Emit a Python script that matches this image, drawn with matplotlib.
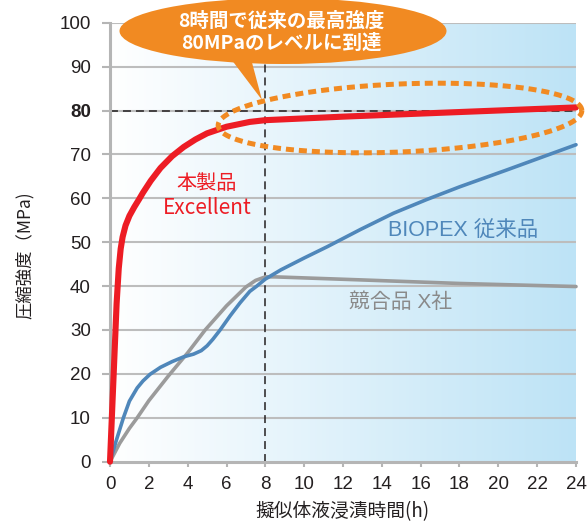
import numpy as np
import matplotlib
matplotlib.use('Agg')
import matplotlib.pyplot as plt
from matplotlib.colors import LinearSegmentedColormap
from matplotlib.patches import Ellipse, Polygon

# データ
red_x = [0, 0.17, 0.34, 0.45, 0.55, 0.65, 0.8, 1.0, 1.25, 1.5, 1.7, 2.1, 2.6, 3.2, 3.8, 4.4, 5.0, 6.0, 7.2, 8.0,
         10, 12, 16, 20, 24]
red_y = [0, 18, 36, 44, 48.5, 51.2, 53.8, 56, 58, 59.8, 61.3, 64, 66.9, 69.6, 71.7, 73.4, 74.8, 76.3, 77.4, 77.8,
         78.2, 78.6, 79.3, 80.0, 80.7]

blue_x = [0, 0.3, 0.69, 1.0, 1.4, 1.7, 2.06, 2.6, 3.2, 3.8, 4.3, 4.7, 5.0, 5.3, 5.67, 6.2, 6.7, 7.2, 7.56, 8.0, 8.8,
          10, 11.2, 12.9, 14.6, 16.3, 18, 20.4, 22.2, 24]
blue_y = [0, 4.5, 10, 13.8, 16.8, 18.4, 19.9, 21.5, 22.8, 23.9, 24.5, 25.3, 26.4, 27.9, 30, 33.3, 36.2, 38.8, 40,
          41.6, 43.7, 46.4, 49, 52.9, 56.6, 59.7, 62.6, 66.4, 69.3, 72.2]

gray_x = [0, 0.5, 1.0, 1.4, 2.0, 3.0, 4.0, 4.9, 6.0, 7.0, 7.5, 8.0, 8.5, 13, 18, 24]
gray_y = [0, 4.2, 7.6, 10, 13.9, 19.5, 24.8, 30, 35.5, 39.8, 41.3, 42.1, 42.1, 41.4, 40.6, 39.9]

xticks = list(range(0, 25, 2))
yticks = list(range(0, 101, 10))

c_red = '#ed1c24'
c_blue = '#4f87ba'
c_gray = '#9b9b9b'
c_orange = '#f18a22'
c_text = '#231f20'
c_grid = '#bdbdbd'
jp = ['Noto Sans CJK JP']
lat = ['Liberation Sans', 'Noto Sans CJK JP']

W, H = 587, 527
fig = plt.figure(figsize=(W / 100, H / 100), dpi=100)
x0, x1, y0, y1 = 110, 576, 461.7, 22.7  # 描画領域（ピクセル）
ax = fig.add_axes([x0 / W, 1 - y0 / H, (x1 - x0) / W, (y0 - y1) / H])
sx = (x1 - x0) / 24.0
sy = (y0 - y1) / 100.0

# 背景グラデーション
cmap = LinearSegmentedColormap.from_list('bg', ['#ffffff', '#bde3f6'])
ax.imshow(np.linspace(0, 1, 256).reshape(1, -1), cmap=cmap, extent=[0, 24, 0, 100],
          aspect='auto', zorder=0, interpolation='bilinear')
ax.set_xlim(0, 24)
ax.set_ylim(0, 100)

for v in yticks[1:]:
    ax.axhline(v, color=c_grid, lw=1.5, zorder=1)

# 補助線
ax.plot([0, 24], [80, 80], color=c_text, lw=1.1, ls=(0, (5.2, 3.3)), zorder=2)
ax.plot([8, 8], [0, 90.5], color=c_text, lw=1.1, ls=(0, (5.2, 3.3)), zorder=2)

ax.plot(gray_x, gray_y, color=c_gray, lw=2.6, zorder=3, solid_capstyle='round',
        solid_joinstyle='round', clip_on=False)
ax.plot(blue_x, blue_y, color=c_blue, lw=2.6, zorder=3, solid_capstyle='round',
        solid_joinstyle='round', clip_on=False)
ax.plot(red_x, red_y, color=c_red, lw=4.4, zorder=4, solid_capstyle='round',
        solid_joinstyle='round', clip_on=False)

# 点線の楕円
t = np.linspace(0, 2 * np.pi, 300)
a, b, th = 182, 34, np.deg2rad(2.4)
ex = a * np.cos(t) * np.cos(th) - b * np.sin(t) * np.sin(th)
ey = a * np.cos(t) * np.sin(th) + b * np.sin(t) * np.cos(th)
cx, cy = (400 - x0) / sx, (y0 - 118) / sy
ax.plot(cx + ex / sx, cy + ey / sy, color=c_orange, lw=3.6, ls=(0, (1.6, 1.0)),
        zorder=5, clip_on=False)

# 吹き出し
bx, by = (283 - x0) / sx, (y0 - 31) / sy
ax.add_patch(Ellipse((bx, by), 327 / sx, 66 / sy, color=c_orange, zorder=6, clip_on=False, lw=0))
tail = [((228 - x0) / sx, (y0 - 55) / sy), ((250 - x0) / sx, (y0 - 55) / sy),
        ((262 - x0) / sx, (y0 - 100) / sy)]
ax.add_patch(Polygon(tail, closed=True, color=c_orange, zorder=6, clip_on=False, lw=0))
ax.text((281 - x0) / sx, (y0 - 21) / sy, '8時間で従来の最高強度', color='white', fontsize=14,
        fontweight='bold', family=jp, ha='center', va='center', zorder=7)
ax.text((281 - x0) / sx, (y0 - 43) / sy, '80MPaのレベルに到達', color='white', fontsize=14,
        fontweight='bold', family=jp, ha='center', va='center', zorder=7)

# ラベル
ax.text(4.95, 63.4, '本製品', color=c_red, fontsize=14.5, family=jp, ha='center', va='center', zorder=7)
ax.text(5.0, 57.7, 'Excellent', color=c_red, fontsize=15, family=jp, ha='center', va='center', zorder=7)
ax.text(18.2, 52.7, 'BIOPEX 従来品', color=c_blue, fontsize=15.5, family=lat, ha='center', va='center', zorder=7)
ax.text(14.95, 36.4, '競合品 X社', color='#8a8a8a', fontsize=15, family=lat, ha='center', va='center', zorder=7)

# 軸
for s in ['top', 'right']:
    ax.spines[s].set_visible(False)
for s in ['left', 'bottom']:
    ax.spines[s].set_color('#b5b5b5')
    ax.spines[s].set_linewidth(2.2)
    ax.spines[s].set_zorder(3)
ax.set_xticks(xticks)
ax.set_yticks(yticks)
ax.set_xticklabels([str(v) for v in xticks], family='Liberation Sans', fontsize=13.5, color=c_text)
ax.set_yticklabels([str(v) for v in yticks], family='Liberation Sans', fontsize=13.5, color=c_text)
for lab in ax.get_yticklabels():
    if lab.get_text() == '80':
        lab.set_fontweight('bold')
ax.tick_params(axis='y', length=5.8, width=1.5, color='#b5b5b5', pad=8)
ax.tick_params(axis='x', length=3.6, width=1.5, color='#b5b5b5', pad=7)

fig.text(25 / W, 1 - 255 / H, '圧縮強度（MPa)', rotation=90, fontsize=12.5, family=jp,
         color=c_text, ha='center', va='center')
fig.text(343 / W, 1 - 512 / H, '擬似体液浸漬時間(h)', fontsize=13.5, family=jp,
         color=c_text, ha='center', va='center')

fig.savefig('out.png', dpi=100)
